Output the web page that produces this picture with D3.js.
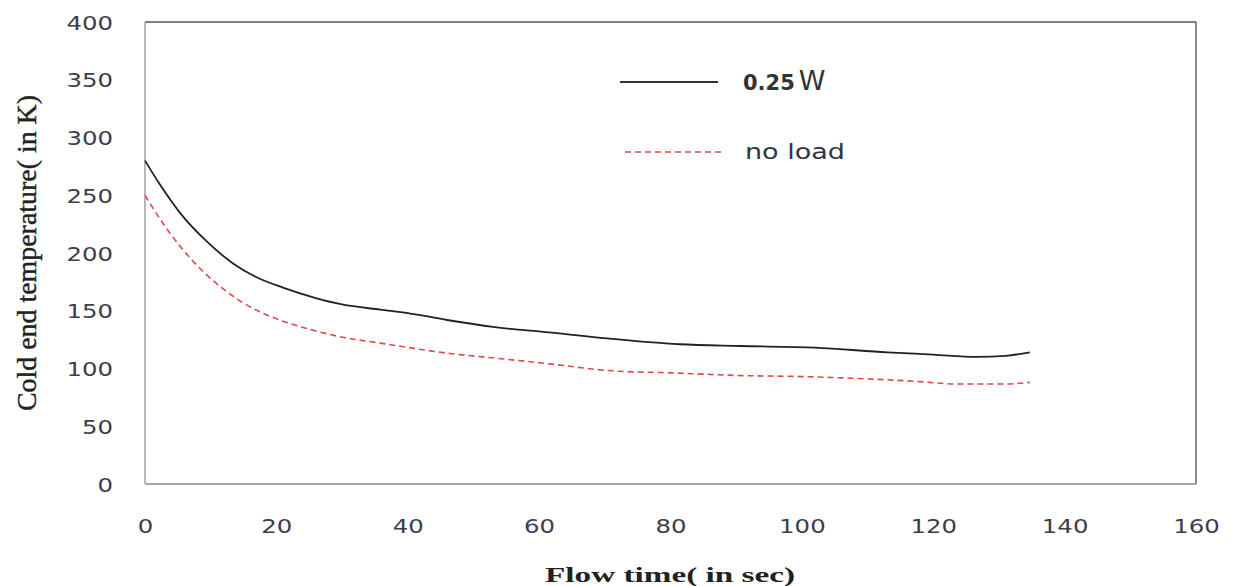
<!DOCTYPE html>
<html><head><meta charset="utf-8">
<script src="https://cdn.jsdelivr.net/npm/d3@7"></script>
<style>body{margin:0;background:#fff}svg{display:block}</style>
</head><body>
<svg id="c" width="1233" height="586"></svg>
<script>
// Data
const loadTime  = [0, 2.3, 5.3, 9.4, 13.4, 17, 21, 26, 30, 35.8, 40, 46, 53, 62, 70.3, 81.4, 90.6, 102, 113, 120, 126.6, 131, 134.7];
const loadTemp  = [280, 259, 235, 210, 191, 179, 170, 161, 155.5, 151, 148, 142, 136, 131, 126, 121, 119.5, 118, 114, 112, 110, 111, 114];
const noLoadTime = [0, 1.2, 3.3, 5.3, 7.3, 9.4, 11.9, 14.9, 17.5, 21, 24.7, 29.7, 35.8, 46.4, 55, 61.6, 71, 81.4, 90, 100, 110, 117, 123.6, 131, 134.7];
const noLoadTemp = [250, 239, 221, 206, 193, 181, 169, 157, 149, 141, 134.5, 127.5, 122, 113, 108, 104, 98, 96, 94, 93, 91, 89, 86.6, 86.6, 88];
const xTicks = [0, 20, 40, 60, 80, 100, 120, 140, 160];
const yTicks = [0, 50, 100, 150, 200, 250, 300, 350, 400];
const seriesNames = ["0.25", "no load"];

const svg = d3.select("#c");
const L = 145, R = 1196, T = 22, B = 484;
const x = d3.scaleLinear().domain([0, 160]).range([L, R]);
const y = d3.scaleLinear().domain([0, 400]).range([B, T]);

// frame
svg.append("line").attr("x1", L).attr("x2", R).attr("y1", T).attr("y2", T).attr("stroke", "#555").attr("stroke-width", 1.5);
svg.append("line").attr("x1", R).attr("x2", R).attr("y1", T).attr("y2", B).attr("stroke", "#666").attr("stroke-width", 1.5);
svg.append("line").attr("x1", L).attr("x2", R).attr("y1", B).attr("y2", B).attr("stroke", "#8a8a8a").attr("stroke-width", 1.5);
svg.append("line").attr("x1", L).attr("x2", L).attr("y1", T).attr("y2", B).attr("stroke", "#a0a0a0").attr("stroke-width", 1.5);

const sx = 1.22;
// y axis
const ya = svg.append("g").attr("transform", `translate(${L},0)`)
  .call(d3.axisLeft(y).tickValues(yTicks).tickSize(0).tickFormat(d3.format("d")));
ya.select(".domain").remove();
ya.selectAll("text").attr("x", -32 / sx).attr("dy", "0.35em")
  .attr("transform", `scale(${sx},1)`)
  .attr("font-family", "DejaVu Sans").attr("font-size", 20).attr("fill", "#3d3d4d");

// x axis
const xa = svg.append("g").attr("transform", `translate(0,${B})`)
  .call(d3.axisBottom(x).tickValues(xTicks).tickSize(0).tickFormat(d3.format("d")));
xa.select(".domain").remove();
xa.selectAll(".tick text").attr("y", 49).attr("dy", 0)
   .attr("transform", `scale(${sx},1)`)
   .attr("font-family", "DejaVu Sans").attr("font-size", 20).attr("fill", "#3d3d4d");

// lines
const line = d3.line().x(d => x(d[0])).y(d => y(d[1])).curve(d3.curveMonotoneX);
svg.append("path").datum(noLoadTime.map((t, i) => [t, noLoadTemp[i]]))
  .attr("d", line).attr("fill", "none").attr("stroke", "#e04848").attr("stroke-width", 1.6)
  .attr("stroke-dasharray", "6,4");
svg.append("path").datum(loadTime.map((t, i) => [t, loadTemp[i]]))
  .attr("d", line).attr("fill", "none").attr("stroke", "#222").attr("stroke-width", 1.8);

// legend
svg.append("line").attr("x1", 620).attr("x2", 718).attr("y1", 82).attr("y2", 82).attr("stroke", "#333").attr("stroke-width", 1.8);
const lt = svg.append("text").attr("x", 743).attr("y", 90).attr("font-family", "DejaVu Sans")
  .attr("font-size", 21).attr("fill", "#333").attr("font-weight", "bold");
lt.append("tspan").text(seriesNames[0]);
lt.append("tspan").attr("font-size", 27).attr("font-weight", "normal").attr("dx", 4).text("W");
svg.append("line").attr("x1", 625).attr("x2", 722).attr("y1", 152).attr("y2", 152).attr("stroke", "#e04848").attr("stroke-width", 1.6).attr("stroke-dasharray", "6,4");
svg.append("text").attr("x", 745).attr("y", 159).attr("font-family", "DejaVu Sans")
  .attr("font-size", 22).attr("fill", "#333344").attr("textLength", 100).attr("lengthAdjust", "spacingAndGlyphs").text(seriesNames[1]);

// axis titles
svg.append("text").attr("transform", "translate(36,253) rotate(-90)").attr("text-anchor", "middle")
  .attr("font-family", "Liberation Serif").attr("font-size", 28).attr("fill", "#222")
  .attr("stroke", "#222").attr("stroke-width", 0.4)
  .attr("textLength", 316).attr("lengthAdjust", "spacingAndGlyphs").text("Cold end temperature( in K)");
svg.append("text").attr("x", 670).attr("y", 582).attr("text-anchor", "middle")
  .attr("font-family", "Liberation Serif").attr("font-size", 21).attr("font-weight", "bold").attr("fill", "#222")
  .attr("textLength", 250).attr("lengthAdjust", "spacingAndGlyphs").text("Flow time( in sec)");
</script>
</body></html>
